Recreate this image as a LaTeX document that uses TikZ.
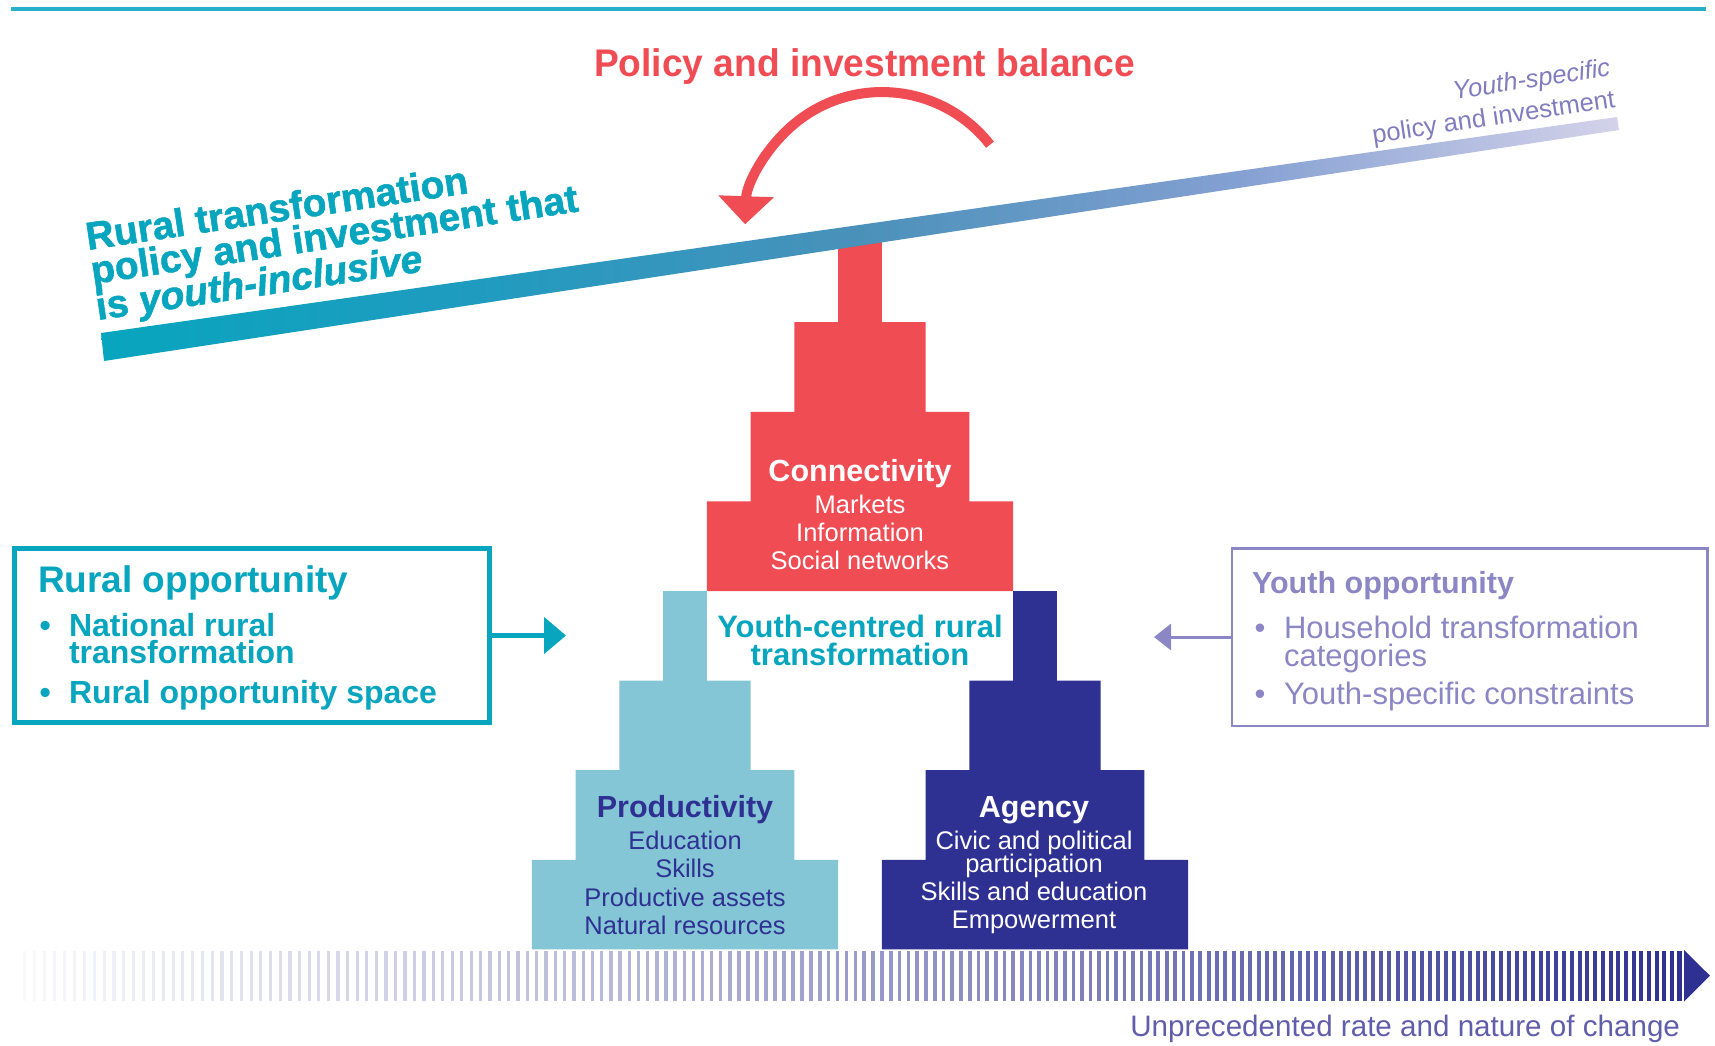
\documentclass[tikz,border=0pt]{standalone}
\usepackage{fontspec}
\setmainfont{Liberation Sans}
\newfontfamily\condfont{Liberation Sans}[FakeStretch=0.965]
\newfontfamily\heavyfont{Liberation Sans}[FakeBold=1.5]
\usetikzlibrary{arrows.meta}

\definecolor{tealc}{RGB}{8,165,190}
\definecolor{linec}{RGB}{40,176,200}
\definecolor{redc}{RGB}{239,76,84}
\definecolor{lightc}{RGB}{132,198,213}
\definecolor{navyc}{RGB}{46,49,146}
\definecolor{lavc}{RGB}{139,134,196}
\definecolor{lavtext}{RGB}{128,124,190}
\definecolor{changec}{RGB}{96,93,170}
\definecolor{beamq}{RGB}{32,155,192}
\definecolor{beammid}{RGB}{74,145,186}
\definecolor{beamr}{RGB}{132,160,210}
\definecolor{beamright}{RGB}{212,210,234}

% colour run of the beam, teal through steel blue to lavender
\pgfdeclarehorizontalshading{beamshade}{100bp}{%
  color(0bp)=(tealc); color(25bp)=(tealc); color(37.5bp)=(beamq);
  color(50bp)=(beammid); color(62.5bp)=(beamr); color(75bp)=(beamright);
  color(100bp)=(beamright)}

\newcommand{\fs}[1]{\fontsize{#1}{#1}\selectfont}
% step width and step height of the stair blocks
\newcommand{\uu}{43.75}
\newcommand{\hh}{89.6}
% stair block: colour, centre x, bottom y, top of the stem
\newcommand{\drawstairs}[4]{%
  \fill[#1] ({#2-0.5*\uu},{#4}) -- ({#2+0.5*\uu},{#4})
    -- ({#2+0.5*\uu},{#3-3*\hh}) -- ({#2+1.5*\uu},{#3-3*\hh})
    -- ({#2+1.5*\uu},{#3-2*\hh}) -- ({#2+2.5*\uu},{#3-2*\hh})
    -- ({#2+2.5*\uu},{#3-\hh}) -- ({#2+3.5*\uu},{#3-\hh})
    -- ({#2+3.5*\uu},{#3}) -- ({#2-3.5*\uu},{#3})
    -- ({#2-3.5*\uu},{#3-\hh}) -- ({#2-2.5*\uu},{#3-\hh})
    -- ({#2-2.5*\uu},{#3-2*\hh}) -- ({#2-1.5*\uu},{#3-2*\hh})
    -- ({#2-1.5*\uu},{#3-3*\hh}) -- ({#2-0.5*\uu},{#3-3*\hh}) -- cycle;}

\tikzset{
  txt/.style={inner sep=0pt, outer sep=0pt},
  ctext/.style={txt, anchor=base},
  ltext/.style={txt, anchor=base west},
  head/.style={font={\bfseries\fs{30.5}}},
  item/.style={font={\fs{25.5}}},
  boxline/.style={inner sep=0pt, outer sep=0pt, anchor=north west},
}

\begin{document}
\begin{tikzpicture}[x=1pt,y=-1pt]
\useasboundingbox (0,0) rectangle (1715,1045);

% rule along the top
\draw[linec, line width=3.5] (11,9) -- (1706,9);

% title and balance arrow
\node[ctext, text=redc, font={\condfont\bfseries\fs{38.5}}] (title) at (864.5,76.5) {Policy and investment balance};
\coordinate (balstart) at (990,144.7);
\draw[redc, line width=10, -{Triangle[length=28pt,width=54pt]}]
  (balstart) arc[start angle=-38, end angle=-178, radius=137];

% stair blocks
\drawstairs{redc}{860}{591}{235}
\drawstairs{lightc}{685}{949.4}{591}
\drawstairs{navyc}{1035}{949.4}{591}

% tilted beam
\shade[shading=beamshade]
  (101,333) -- (1617,117) -- (1619,130) -- (104,361) -- cycle;

% beam labels
\node[ltext, rotate=8.5, text=tealc, font={\heavyfont\bfseries\fs{39}}] (ht1) at (88,250) {Rural transformation};
\node[ltext, rotate=8.5, text=tealc, font={\heavyfont\bfseries\fs{39}}] (ht2) at (93,284) {policy and investment that};
\node[ltext, rotate=8.5, text=tealc, font={\heavyfont\bfseries\fs{39}}] (ht3) at (98,320) {is \textit{youth-inclusive}};
\node[txt, anchor=base east, rotate=8.5, text=lavtext, font={\itshape\fs{25.5}}] (ys1) at (1611,76) {Youth-specific};
\node[txt, anchor=base east, rotate=8.5, text=lavtext, font={\fs{25.5}}] (ys2) at (1616,107) {policy and investment};

% connectivity block
\node[ctext, head, text=white] (conn) at (860,481) {Connectivity};
\node[ctext, item, text=white] (conn1) at (860,513) {Markets};
\node[ctext, item, text=white] (conn2) at (860,541) {Information};
\node[ctext, item, text=white] (conn3) at (860,569) {Social networks};

% centre label
\node[ctext, text=tealc, font={\bfseries\fs{31}}] (yc1) at (860,637) {Youth-centred rural};
\node[ctext, text=tealc, font={\bfseries\fs{31}}] (yc2) at (860,665) {transformation};

% productivity block
\node[ctext, head, text=navyc] (prod) at (685,817) {Productivity};
\node[ctext, item, text=navyc] (prod1) at (685,849) {Education};
\node[ctext, item, text=navyc] (prod2) at (685,877) {Skills};
\node[ctext, item, text=navyc] (prod3) at (685,906) {Productive assets};
\node[ctext, item, text=navyc] (prod4) at (685,934) {Natural resources};

% agency block
\node[ctext, head, text=white] (agen) at (1034,817) {Agency};
\node[ctext, item, text=white] (agen1) at (1034,849) {Civic and political};
\node[ctext, item, text=white] (agen2) at (1034,872) {participation};
\node[ctext, item, text=white] (agen3) at (1034,900) {Skills and education};
\node[ctext, item, text=white] (agen4) at (1034,928) {Empowerment};

% rural opportunity box
\node[boxline, draw=tealc, line width=5, minimum width=475pt, minimum height=174pt] (ruralbox) at (14.5,548.5) {};
\node[ltext, text=tealc, font={\bfseries\fs{37}}] (rt) at (38,592) {Rural opportunity};
\node[ltext, text=tealc, font={\bfseries\fs{32}}] (rb1) at (39.5,636) {\textbullet};
\node[ltext, text=tealc, font={\bfseries\fs{32}}] (r1a) at (69,636) {National rural};
\node[ltext, text=tealc, font={\bfseries\fs{32}}] (r1b) at (69,663) {transformation};
\node[ltext, text=tealc, font={\bfseries\fs{32}}] (rb2) at (39.5,703) {\textbullet};
\node[ltext, text=tealc, font={\bfseries\fs{32}}] (r2) at (69,703) {Rural opportunity space};
\coordinate (ruraltip) at (566,635.5);
\draw[tealc, line width=5, -{Triangle[length=22pt,width=36pt]}] (ruralbox.east) -- (ruraltip);

% youth opportunity box
\node[boxline, draw=lavc, line width=2.5, minimum width=475.5pt, minimum height=177.5pt] (youthbox) at (1231.75,548.25) {};
\node[ltext, text=lavc, font={\bfseries\fs{30.5}}] (yt) at (1252,593) {Youth opportunity};
\node[ltext, text=lavc, font={\fs{31}}] (yb1) at (1254.6,638) {\textbullet};
\node[ltext, text=lavc, font={\fs{31}}] (y1a) at (1284,638) {Household transformation};
\node[ltext, text=lavc, font={\fs{31}}] (y1b) at (1284,666) {categories};
\node[ltext, text=lavc, font={\fs{31}}] (yb2) at (1254.6,704) {\textbullet};
\node[ltext, text=lavc, font={\fs{31}}] (y2) at (1284,704) {Youth-specific constraints};
\coordinate (youthtip) at (1154,637);
\draw[lavc, line width=3, -{Triangle[length=17pt,width=26pt]}] (youthbox.west) -- (youthtip);

% striped arrow of change, spacing tightening towards the head
\foreach \i in {0,...,188} {
  \pgfmathsetmacro\tt{\i/188}
  \pgfmathsetmacro\xs{23 + 10*\i - 1.2*\tt*\i}
  \pgfmathsetmacro\op{0.03 + 0.97*\tt}
  \pgfmathsetmacro\sw{3 + 1.2*\tt}
  \fill[navyc, opacity=\op] (\xs,951) rectangle ++(\sw,50);
}
\fill[navyc] (1684,950) -- (1710,975.7) -- (1684,1001.5) -- cycle;
\node[txt, anchor=base east, text=changec, font={\fs{29.6}}] (change) at (1680,1036) {Unprecedented rate and nature of change};

\end{tikzpicture}
\end{document}
